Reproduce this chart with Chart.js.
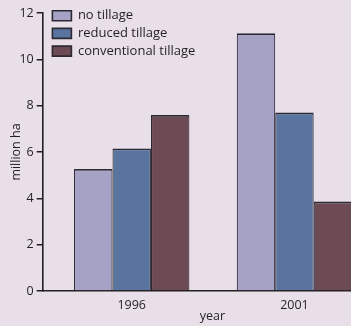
<!DOCTYPE html>
<html>
<head>
<meta charset="utf-8">
<script src="https://cdn.jsdelivr.net/npm/chart.js@4/dist/chart.umd.min.js"></script>
<style>
  html, body { margin: 0; padding: 0; background: #e8dfe8; overflow: hidden; }
  #wrap { position: relative; width: 382px; height: 326px; }
</style>
</head>
<body>
<div id="wrap"><canvas id="c"></canvas></div>
<script>
// Area under each tillage system (million ha)
const years = ['1996', '2001'];
const noTillage = [5.27, 11.13];
const reducedTillage = [6.15, 7.70];
const conventionalTillage = [7.60, 3.86];
const seriesNames = ['no tillage', 'reduced tillage', 'conventional tillage'];
const yTicks = [0, 2, 4, 6, 8, 10, 12];

const ink = '#231f22';
const font = { family: "'Open Sans', 'Noto Sans', sans-serif", size: 12.5 };

const points = vals => vals.map((v, i) => ({ x: i, y: v }));

// Place the legend in the top-left corner of the plot
const legendCorner = {
  id: 'legendCorner',
  afterLayout(chart) {
    const lg = chart.legend, a = chart.chartArea;
    if (!lg) return;
    lg.left = a.left + 5;
    lg.top = a.top - 8.5;
  }
};

new Chart(document.getElementById('c'), {
  type: 'bar',
  data: {
    datasets: [
      { label: seriesNames[0], data: points(noTillage), backgroundColor: '#a6a2c5' },
      { label: seriesNames[1], data: points(reducedTillage), backgroundColor: '#58749f' },
      { label: seriesNames[2], data: points(conventionalTillage), backgroundColor: '#6d4b54' }
    ].map(d => Object.assign(d, {
      borderColor: '#2b2a33',
      borderWidth: { top: 1.8, left: 1.1, right: 1.1, bottom: 0 },
      borderSkipped: 'start',
      categoryPercentage: 0.709, barPercentage: 1
    }))
  },
  options: {
    responsive: true,
    maintainAspectRatio: false,
    animation: false,
    layout: { padding: { top: 13, right: 0, bottom: 0, left: 0 } },
    plugins: {
      tooltip: { enabled: false },
      legend: {
        position: 'chartArea',
        align: 'start',
        labels: {
          boxWidth: 19, boxHeight: 10, padding: 4.7,
          color: ink,
          font: { family: font.family, size: 13 },
          generateLabels: chart =>
            Chart.defaults.plugins.legend.labels.generateLabels(chart)
              .map(item => Object.assign(item, { lineWidth: 1.6 }))
        }
      }
    },
    scales: {
      x: {
        type: 'linear',
        offset: false,
        min: -0.547, max: 1.538,
        afterFit: s => { s.height = 35; },
        afterBuildTicks: s => { s.ticks = years.map((_, i) => ({ value: i })); },
        ticks: {
          color: ink, font, padding: 7, maxRotation: 0, autoSkip: false,
          callback: v => years[v]
        },
        grid: { offset: false, drawOnChartArea: false, drawTicks: false },
        border: { display: true, color: ink, width: 1.6 },
        title: { display: true, text: 'year', color: ink, font, padding: { top: 0, bottom: 1.8 } }
      },
      y: {
        min: 0, max: 12,
        afterFit: s => { s.width = 42.7; },
        afterBuildTicks: s => { s.ticks = yTicks.map(v => ({ value: v })); },
        ticks: { color: ink, font, padding: 3 },
        grid: { drawOnChartArea: false, drawTicks: true, tickLength: 6, color: ink, lineWidth: 1.5 },
        border: { display: true, color: ink, width: 1.6 },
        title: { display: true, text: 'million ha', color: ink, font, padding: { top: 9.3, bottom: 0 } }
      }
    }
  },
  plugins: [legendCorner]
});
</script>
</body>
</html>
